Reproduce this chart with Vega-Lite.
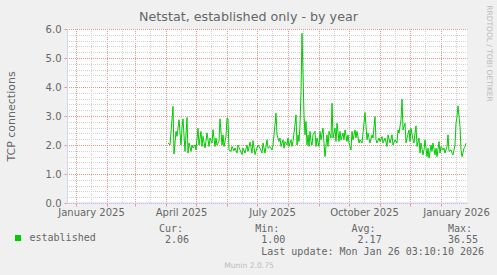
{
  "$schema": "https://vega.github.io/schema/vega-lite/v6.json",
  "width": 400,
  "height": 174,
  "autosize": {"type": "none"},
  "padding": {"left": 67, "top": 29, "right": 30, "bottom": 72},
  "background": "#F0F0F0",
  "config": {"view": {"fill": "#FFFFFF", "stroke": null}, "font": "DejaVu Sans"},
  "title": {
    "text": "Netstat, established only - by year",
    "font": "DejaVu Sans",
    "fontSize": 12.7,
    "fontWeight": "normal",
    "color": "#666666",
    "anchor": "middle",
    "frame": "group",
    "dx": -18.5,
    "dy": 29,
    "offset": 0,
    "baseline": "alphabetic"
  },
  "resolve": {"axis": {"x": "independent", "y": "independent"}},
  "layer": [
    {
      "data": {"values": [{"part": "x axis line"}]},
      "mark": {"type": "rule", "color": "#CFD6F8", "strokeWidth": 1},
      "encoding": {
        "x": {
          "datum": {"year": 2024, "month": 12, "date": 23, "utc": true},
          "type": "temporal",
          "scale": {"type": "utc", "domain": [{"year": 2024, "month": 12, "date": 23, "utc": true}, {"year": 2026, "month": 1, "date": 27, "utc": true}]},
          "axis": {
            "orient": "bottom", "grid": false, "labels": false, "ticks": false, "domain": false,
            "title": "Munin 2.0.75", "titleFont": "DejaVu Sans", "titleFontSize": 7.6, "titleFontWeight": "normal",
            "titleColor": "#BBBBBB", "titleX": 181.5, "titleY": 64, "titleAlign": "center", "titleBaseline": "alphabetic", "titleAngle": 0
          }
        },
        "x2": {"datum": {"year": 2026, "month": 1, "date": 27, "utc": true}},
        "y": {
          "datum": 0,
          "type": "quantitative",
          "scale": {"domain": [0, 6], "nice": false},
          "axis": {
            "orient": "right", "grid": false, "labels": false, "ticks": false, "domain": false,
            "title": "RRDTOOL / TOBI OETIKER", "titleFont": "DejaVu Sans", "titleFontSize": 7.5, "titleFontWeight": "normal",
            "titleColor": "#BBBBBB", "titleAngle": 90, "titleX": 21, "titleY": 24, "titleAlign": "center", "titleBaseline": "middle"
          }
        }
      }
    },
    {
      "data": {"values": [
        {"date":"2025-04-03","value":2.07},{"date":"2025-04-05","value":2.0},{"date":"2025-04-08","value":3.33},{"date":"2025-04-09","value":1.69},{"date":"2025-04-11","value":2.47},{"date":"2025-04-12","value":2.3},{"date":"2025-04-14","value":2.87},{"date":"2025-04-16","value":2.0},{"date":"2025-04-17","value":2.58},{"date":"2025-04-18","value":2.9},{"date":"2025-04-20","value":1.78},{"date":"2025-04-22","value":2.95},{"date":"2025-04-23","value":1.72},{"date":"2025-04-24","value":2.07},{"date":"2025-04-26","value":1.78},{"date":"2025-04-27","value":2.0},{"date":"2025-04-28","value":1.9},{"date":"2025-04-30","value":2.0},
        {"date":"2025-05-01","value":1.83},{"date":"2025-05-03","value":2.58},{"date":"2025-05-04","value":2.0},{"date":"2025-05-06","value":2.47},{"date":"2025-05-07","value":1.95},{"date":"2025-05-08","value":2.3},{"date":"2025-05-10","value":1.9},{"date":"2025-05-11","value":2.13},{"date":"2025-05-12","value":2.42},{"date":"2025-05-14","value":1.95},{"date":"2025-05-15","value":2.24},{"date":"2025-05-17","value":2.07},{"date":"2025-05-18","value":2.53},{"date":"2025-05-20","value":1.95},{"date":"2025-05-21","value":2.24},{"date":"2025-05-22","value":2.0},{"date":"2025-05-24","value":2.13},{"date":"2025-05-25","value":2.9},{"date":"2025-05-27","value":2.0},{"date":"2025-05-28","value":2.35},{"date":"2025-05-29","value":1.95},{"date":"2025-05-31","value":2.3},
        {"date":"2025-06-01","value":2.93},{"date":"2025-06-02","value":2.9},{"date":"2025-06-03","value":1.83},{"date":"2025-06-05","value":1.78},{"date":"2025-06-06","value":1.95},{"date":"2025-06-08","value":1.8},{"date":"2025-06-09","value":1.9},{"date":"2025-06-11","value":1.72},{"date":"2025-06-12","value":2.0},{"date":"2025-06-14","value":1.83},{"date":"2025-06-16","value":1.67},{"date":"2025-06-17","value":1.9},{"date":"2025-06-19","value":1.72},{"date":"2025-06-21","value":2.0},{"date":"2025-06-22","value":1.78},{"date":"2025-06-24","value":2.1},{"date":"2025-06-26","value":1.72},{"date":"2025-06-27","value":2.15},{"date":"2025-06-29","value":1.67},
        {"date":"2025-07-01","value":1.9},{"date":"2025-07-02","value":2.0},{"date":"2025-07-04","value":1.89},{"date":"2025-07-06","value":1.72},{"date":"2025-07-07","value":2.07},{"date":"2025-07-09","value":1.72},{"date":"2025-07-11","value":2.18},{"date":"2025-07-12","value":1.89},{"date":"2025-07-14","value":1.95},{"date":"2025-07-16","value":1.83},{"date":"2025-07-17","value":2.0},{"date":"2025-07-19","value":2.7},{"date":"2025-07-20","value":3.1},{"date":"2025-07-21","value":2.35},{"date":"2025-07-23","value":2.12},{"date":"2025-07-24","value":2.24},{"date":"2025-07-25","value":1.95},{"date":"2025-07-27","value":2.18},{"date":"2025-07-28","value":1.89},{"date":"2025-07-29","value":2.12},{"date":"2025-07-31","value":2.0},
        {"date":"2025-08-01","value":2.24},{"date":"2025-08-02","value":1.95},{"date":"2025-08-04","value":2.18},{"date":"2025-08-05","value":1.95},{"date":"2025-08-06","value":2.12},{"date":"2025-08-08","value":2.7},{"date":"2025-08-09","value":3.04},{"date":"2025-08-10","value":2.0},{"date":"2025-08-11","value":2.35},{"date":"2025-08-12","value":2.12},{"date":"2025-08-13","value":2.7},{"date":"2025-08-14","value":3.84},{"date":"2025-08-15","value":5.85},{"date":"2025-08-16","value":4.42},{"date":"2025-08-17","value":3.04},{"date":"2025-08-18","value":2.35},{"date":"2025-08-19","value":2.81},{"date":"2025-08-20","value":2.0},{"date":"2025-08-21","value":2.35},{"date":"2025-08-22","value":1.95},{"date":"2025-08-23","value":2.47},{"date":"2025-08-24","value":2.12},{"date":"2025-08-25","value":2.0},{"date":"2025-08-26","value":2.35},{"date":"2025-08-28","value":2.47},{"date":"2025-08-29","value":1.95},{"date":"2025-08-30","value":2.24},
        {"date":"2025-09-01","value":1.95},{"date":"2025-09-02","value":2.47},{"date":"2025-09-03","value":2.18},{"date":"2025-09-05","value":2.58},{"date":"2025-09-06","value":2.07},{"date":"2025-09-07","value":1.6},{"date":"2025-09-09","value":2.35},{"date":"2025-09-10","value":1.95},{"date":"2025-09-11","value":2.47},{"date":"2025-09-13","value":2.24},{"date":"2025-09-14","value":3.44},{"date":"2025-09-15","value":2.24},{"date":"2025-09-17","value":2.58},{"date":"2025-09-18","value":2.12},{"date":"2025-09-19","value":2.75},{"date":"2025-09-21","value":2.12},{"date":"2025-09-22","value":2.47},{"date":"2025-09-23","value":2.18},{"date":"2025-09-25","value":2.41},{"date":"2025-09-26","value":2.18},{"date":"2025-09-27","value":2.52},{"date":"2025-09-29","value":2.12},{"date":"2025-09-30","value":2.35},
        {"date":"2025-10-01","value":2.07},{"date":"2025-10-03","value":1.83},{"date":"2025-10-04","value":2.47},{"date":"2025-10-05","value":2.18},{"date":"2025-10-07","value":2.52},{"date":"2025-10-08","value":2.24},{"date":"2025-10-09","value":2.47},{"date":"2025-10-11","value":2.07},{"date":"2025-10-12","value":2.18},{"date":"2025-10-14","value":2.07},{"date":"2025-10-15","value":2.41},{"date":"2025-10-17","value":3.12},{"date":"2025-10-19","value":2.18},{"date":"2025-10-20","value":2.41},{"date":"2025-10-22","value":2.07},{"date":"2025-10-24","value":2.35},{"date":"2025-10-25","value":2.24},{"date":"2025-10-27","value":2.98},{"date":"2025-10-28","value":2.18},{"date":"2025-10-29","value":2.07},{"date":"2025-10-31","value":2.24},
        {"date":"2025-11-01","value":2.12},{"date":"2025-11-03","value":2.29},{"date":"2025-11-04","value":2.07},{"date":"2025-11-06","value":2.24},{"date":"2025-11-08","value":1.95},{"date":"2025-11-09","value":2.35},{"date":"2025-11-11","value":2.07},{"date":"2025-11-13","value":2.35},{"date":"2025-11-14","value":2.0},{"date":"2025-11-16","value":2.18},{"date":"2025-11-18","value":2.07},{"date":"2025-11-19","value":2.52},{"date":"2025-11-20","value":2.41},{"date":"2025-11-22","value":2.87},{"date":"2025-11-23","value":3.58},{"date":"2025-11-24","value":2.52},{"date":"2025-11-26","value":2.75},{"date":"2025-11-27","value":2.07},{"date":"2025-11-28","value":2.24},{"date":"2025-11-30","value":2.52},
        {"date":"2025-12-01","value":2.12},{"date":"2025-12-02","value":2.58},{"date":"2025-12-04","value":2.18},{"date":"2025-12-05","value":2.07},{"date":"2025-12-06","value":2.41},{"date":"2025-12-07","value":2.66},{"date":"2025-12-08","value":1.95},{"date":"2025-12-10","value":2.24},{"date":"2025-12-11","value":1.72},{"date":"2025-12-12","value":2.07},{"date":"2025-12-14","value":1.66},{"date":"2025-12-15","value":1.83},{"date":"2025-12-16","value":2.18},{"date":"2025-12-18","value":1.6},{"date":"2025-12-19","value":1.89},{"date":"2025-12-20","value":1.55},{"date":"2025-12-22","value":2.0},{"date":"2025-12-23","value":1.78},{"date":"2025-12-24","value":2.07},{"date":"2025-12-26","value":1.66},{"date":"2025-12-27","value":1.89},{"date":"2025-12-28","value":1.6},{"date":"2025-12-30","value":2.12},{"date":"2025-12-31","value":1.72},
        {"date":"2026-01-01","value":1.95},{"date":"2026-01-03","value":1.83},{"date":"2026-01-04","value":1.89},{"date":"2026-01-05","value":1.72},{"date":"2026-01-07","value":1.95},{"date":"2026-01-08","value":2.35},{"date":"2026-01-09","value":1.78},{"date":"2026-01-11","value":1.83},{"date":"2026-01-12","value":1.72},{"date":"2026-01-13","value":1.66},{"date":"2026-01-15","value":2.0},{"date":"2026-01-16","value":2.75},{"date":"2026-01-17","value":2.98},{"date":"2026-01-18","value":3.35},{"date":"2026-01-20","value":2.64},{"date":"2026-01-21","value":1.83},{"date":"2026-01-22","value":1.6},{"date":"2026-01-24","value":1.89},{"date":"2026-01-25","value":1.95},{"date":"2026-01-26","value":2.06}
      ]},
      "mark": {"type": "line", "strokeWidth": 1, "interpolate": "linear"},
      "encoding": {
        "x": {
          "field": "date",
          "type": "temporal",
          "scale": {"type": "utc", "domain": [{"year": 2024, "month": 12, "date": 23, "utc": true}, {"year": 2026, "month": 1, "date": 27, "utc": true}]},
          "axis": {
            "orient": "bottom",
            "values": [
              {"year":2025,"month":1,"date":1,"utc":true},{"year":2025,"month":1,"date":16,"utc":true},
              {"year":2025,"month":2,"date":1,"utc":true},{"year":2025,"month":2,"date":16,"utc":true},
              {"year":2025,"month":3,"date":1,"utc":true},{"year":2025,"month":3,"date":16,"utc":true},
              {"year":2025,"month":4,"date":1,"utc":true},{"year":2025,"month":4,"date":16,"utc":true},
              {"year":2025,"month":5,"date":1,"utc":true},{"year":2025,"month":5,"date":16,"utc":true},
              {"year":2025,"month":6,"date":1,"utc":true},{"year":2025,"month":6,"date":16,"utc":true},
              {"year":2025,"month":7,"date":1,"utc":true},{"year":2025,"month":7,"date":16,"utc":true},
              {"year":2025,"month":8,"date":1,"utc":true},{"year":2025,"month":8,"date":16,"utc":true},
              {"year":2025,"month":9,"date":1,"utc":true},{"year":2025,"month":9,"date":16,"utc":true},
              {"year":2025,"month":10,"date":1,"utc":true},{"year":2025,"month":10,"date":16,"utc":true},
              {"year":2025,"month":11,"date":1,"utc":true},{"year":2025,"month":11,"date":16,"utc":true},
              {"year":2025,"month":12,"date":1,"utc":true},{"year":2025,"month":12,"date":16,"utc":true},
              {"year":2026,"month":1,"date":1,"utc":true},{"year":2026,"month":1,"date":16,"utc":true}
            ],
            "grid": true,
            "gridColor": {"condition": {"test": "utcdate(datum.value) == 1", "value": "#EB9595"}, "value": "#D2D2D2"},
            "gridDash": [1, 1],
            "gridDashOffset": 0.5,
            "gridWidth": 1,
            "gridOpacity": 1,
            "ticks": true,
            "tickSize": 3,
            "tickColor": {"condition": {"test": "utcdate(datum.value) == 1", "value": "#EB9595"}, "value": "transparent"},
            "domain": false,
            "labelExpr": "utcdate(datum.value) == 16 && utcmonth(datum.value) % 3 == 0 ? utcFormat(datum.value, '%B %Y') : ''",
            "labelFont": "DejaVu Sans",
            "labelFontSize": 10,
            "labelColor": "#666666",
            "labelPadding": 1.5,
            "labelOverlap": false,
            "labelFlush": false,
            "labelBound": false,
            "labelAngle": 0,
            "labelAlign": "center",
            "labelBaseline": "top",
            "title": [
              "Cur:\u00a0\u00a0\u00a0\u00a0\u00a0\u00a0\u00a0\u00a0\u00a0\u00a0\u00a0\u00a0Min:\u00a0\u00a0\u00a0\u00a0\u00a0\u00a0\u00a0\u00a0\u00a0\u00a0\u00a0\u00a0Avg:\u00a0\u00a0\u00a0\u00a0\u00a0\u00a0\u00a0\u00a0\u00a0\u00a0\u00a0\u00a0Max:",
              "\u2060\u00a02.06\u00a0\u00a0\u00a0\u00a0\u00a0\u00a0\u00a0\u00a0\u00a0\u00a0\u00a0\u00a01.00\u00a0\u00a0\u00a0\u00a0\u00a0\u00a0\u00a0\u00a0\u00a0\u00a0\u00a0\u00a02.17\u00a0\u00a0\u00a0\u00a0\u00a0\u00a0\u00a0\u00a0\u00a0\u00a0\u00a036.55",
              "\u2060\u00a0\u00a0\u00a0\u00a0\u00a0\u00a0\u00a0\u00a0\u00a0\u00a0\u00a0\u00a0\u00a0\u00a0\u00a0\u00a0\u00a0Last update: Mon Jan 26 03:10:10 2026"
            ],
            "titleFont": "DejaVu Sans Mono",
            "titleFontSize": 10,
            "titleFontWeight": "normal",
            "titleColor": "#666666",
            "titleX": 91.4,
            "titleY": 28.7,
            "titleAlign": "left",
            "titleBaseline": "alphabetic",
            "titleLineHeight": 11.3,
            "titleAngle": 0
          }
        },
        "y": {
          "field": "value",
          "type": "quantitative",
          "scale": {"domain": [0, 6], "nice": false},
          "axis": {
            "orient": "left",
            "values": [0,0.2,0.4,0.6,0.8,1,1.2,1.4,1.6,1.8,2,2.2,2.4,2.6,2.8,3,3.2,3.4,3.6,3.8,4,4.2,4.4,4.6,4.8,5,5.2,5.4,5.6,5.8,6],
            "grid": true,
            "gridColor": {"condition": {"test": "abs(datum.value - round(datum.value)) < 0.001", "value": "#EB9595"}, "value": "#D2D2D2"},
            "gridDash": [1, 1],
            "gridDashOffset": 0.5,
            "gridWidth": 1,
            "gridOpacity": 1,
            "ticks": true,
            "tickSize": 3,
            "tickColor": {"condition": {"test": "abs(datum.value - round(datum.value)) < 0.001", "value": "#EB9595"}, "value": "transparent"},
            "domain": true,
            "domainColor": "#CFD6F8",
            "labelExpr": "abs(datum.value - round(datum.value)) < 0.001 ? format(datum.value, '.1f') : ''",
            "labelFont": "DejaVu Sans",
            "labelFontSize": 10,
            "labelColor": "#666666",
            "labelPadding": 3,
            "labelOverlap": false,
            "labelFlush": false,
            "labelBound": false,
            "labelBaseline": "middle",
            "title": "TCP connections",
            "titleFont": "DejaVu Sans",
            "titleFontSize": 11,
            "titleFontWeight": "normal",
            "titleColor": "#666666",
            "titleX": -55.5,
            "titleY": 87,
            "titleAngle": -90,
            "titleAlign": "center",
            "titleBaseline": "middle"
          }
        },
        "color": {
          "datum": "established",
          "type": "nominal",
          "scale": {"range": ["#00CC00"]},
          "legend": {
            "orient": "none",
            "legendX": -54,
            "legendY": 204,
            "title": null,
            "symbolType": "square",
            "symbolSize": 36,
            "symbolStrokeWidth": 0,
            "symbolFillColor": "#00CC00",
            "labelFont": "DejaVu Sans Mono",
            "labelFontSize": 10,
            "labelColor": "#666666",
            "labelOffset": 6.5,
            "padding": 0,
            "encode": {"symbols": {"update": {"fill": {"value": "#00CC00"}, "stroke": {"value": "#00CC00"}, "strokeWidth": {"value": 0}, "shape": {"value": "square"}}}}
          }
        }
      }
    }
  ]
}
